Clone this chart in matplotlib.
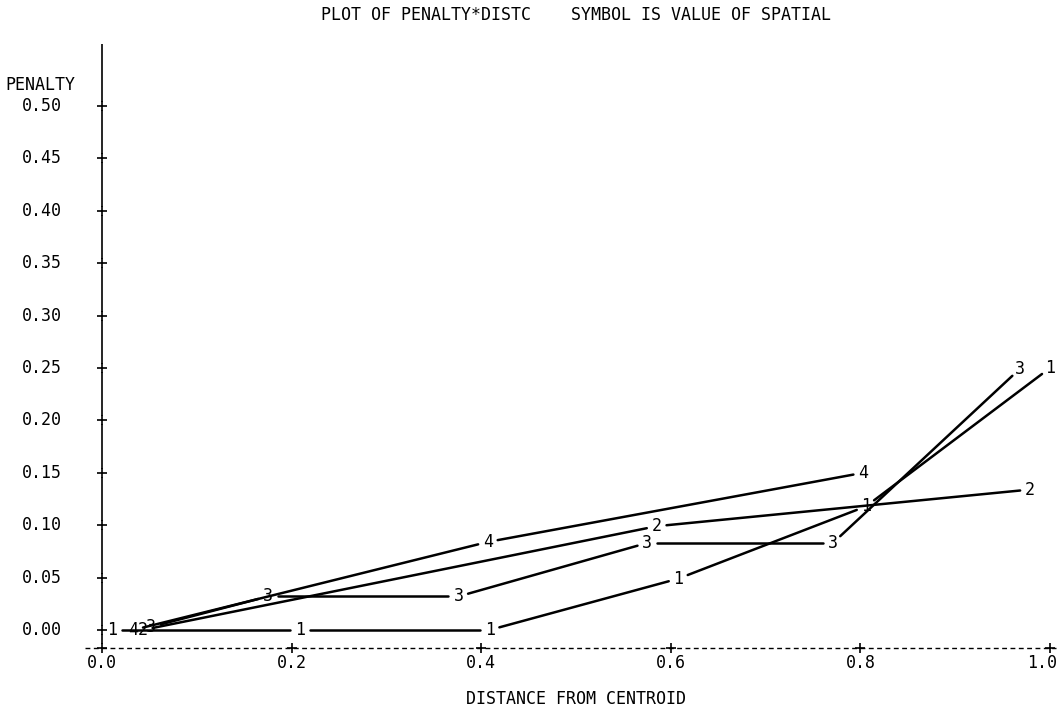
import numpy as np
import matplotlib
matplotlib.use("Agg")
import matplotlib.pyplot as plt

# ---- text ----
title = "PLOT OF PENALTY*DISTC    SYMBOL IS VALUE OF SPATIAL"
x_label = "DISTANCE FROM CENTROID"
y_label = "PENALTY"

x_ticks = [0.0, 0.2, 0.4, 0.6, 0.8, 1.0]
x_tick_labels = ["0.0", "0.2", "0.4", "0.6", "0.8", "1.0"]
y_ticks = [0.00, 0.05, 0.10, 0.15, 0.20, 0.25, 0.30, 0.35, 0.40, 0.45, 0.50]
y_tick_labels = ["0.00", "0.05", "0.10", "0.15", "0.20", "0.25",
                 "0.30", "0.35", "0.40", "0.45", "0.50"]

# ---- data: penalty by distance from centroid, one series per SPATIAL value ----
spatial_values = ["1", "2", "3", "4"]
distc_1 = [0.011, 0.209, 0.409, 0.608, 0.806, 1.000]
penalty_1 = [0.000, 0.000, 0.000, 0.049, 0.118, 0.250]
distc_2 = [0.043, 0.585, 0.979]
penalty_2 = [0.000, 0.099, 0.134]
distc_3 = [0.052, 0.175, 0.376, 0.575, 0.771, 0.968]
penalty_3 = [0.003, 0.032, 0.032, 0.083, 0.083, 0.249]
distc_4 = [0.033, 0.407, 0.803]
penalty_4 = [0.000, 0.084, 0.150]

series = [(distc_1, penalty_1), (distc_2, penalty_2),
          (distc_3, penalty_3), (distc_4, penalty_4)]

FONT = "DejaVu Sans Mono"
FS = 12

fig = plt.figure(figsize=(10.59, 7.07), dpi=100)
ax = fig.add_axes([0, 0, 1, 1])
ax.set_xlim(-0.1076, 1.0095)
ax.set_ylim(-0.0735, 0.6011)
ax.axis("off")


def gapped(xs, ys, gap_px, **kw):
    """Join consecutive points, leaving a gap of gap_px around each point."""
    pts = ax.transData.transform(np.column_stack([xs, ys]))
    inv = ax.transData.inverted()
    for p, q in zip(pts[:-1], pts[1:]):
        d = q - p
        length = np.hypot(*d)
        if length <= 2 * gap_px:
            continue
        u = d / length
        seg = inv.transform(np.array([p + u * gap_px, q - u * gap_px]))
        ax.plot(seg[:, 0], seg[:, 1], **kw)


# ---- vertical axis with plus ticks ----
y_axis_x = 0.0
y_axis_bottom = -0.0172
y_axis_top = 0.563
ys_axis = [y_axis_bottom] + y_ticks + [y_axis_top]
gapped([y_axis_x] * len(ys_axis), ys_axis, 4, color="black", lw=1.2,
       solid_capstyle="butt")
ax.plot([y_axis_x] * len(y_ticks), y_ticks, ls="none", marker="+",
        ms=7, mew=1.2, color="black")

# ---- horizontal dashed axis with plus ticks ----
ax.plot([-0.018, 1.006], [y_axis_bottom, y_axis_bottom], color="black",
        lw=1.0, ls=(0, (3.5, 2.5)))
ax.plot(x_ticks, [y_axis_bottom] * len(x_ticks), ls="none", marker="+",
        ms=7, mew=1.2, color="black")

# ---- tick labels ----
for v, lab in zip(y_ticks, y_tick_labels):
    ax.text(-0.042, v, lab, ha="right", va="center", family=FONT, fontsize=FS)
for i, (v, lab) in enumerate(zip(x_ticks, x_tick_labels)):
    # keep the last label inside the right edge
    dx = -6 if i == len(x_ticks) - 1 else 0
    ax.annotate(lab, (v, -0.0315), xytext=(dx, 0), textcoords="offset points",
                ha="center", va="center", family=FONT, fontsize=FS)

ax.text(-0.1023, 0.520, y_label, ha="left", va="center", family=FONT, fontsize=FS)
ax.text(0.5, -0.0658, x_label, ha="center", va="center", family=FONT, fontsize=FS)
ax.text(0.5, 0.5868, title, ha="center", va="center", family=FONT, fontsize=FS)

# ---- joined series, each point marked by its SPATIAL value ----
for sym, (xs, ys) in zip(spatial_values, series):
    gapped(xs, ys, 10, color="black", lw=1.8, solid_capstyle="round")
    for x, y in zip(xs, ys):
        ax.text(x, y, sym, ha="center", va="center", family=FONT, fontsize=FS)

fig.savefig("out.png", dpi=100)
